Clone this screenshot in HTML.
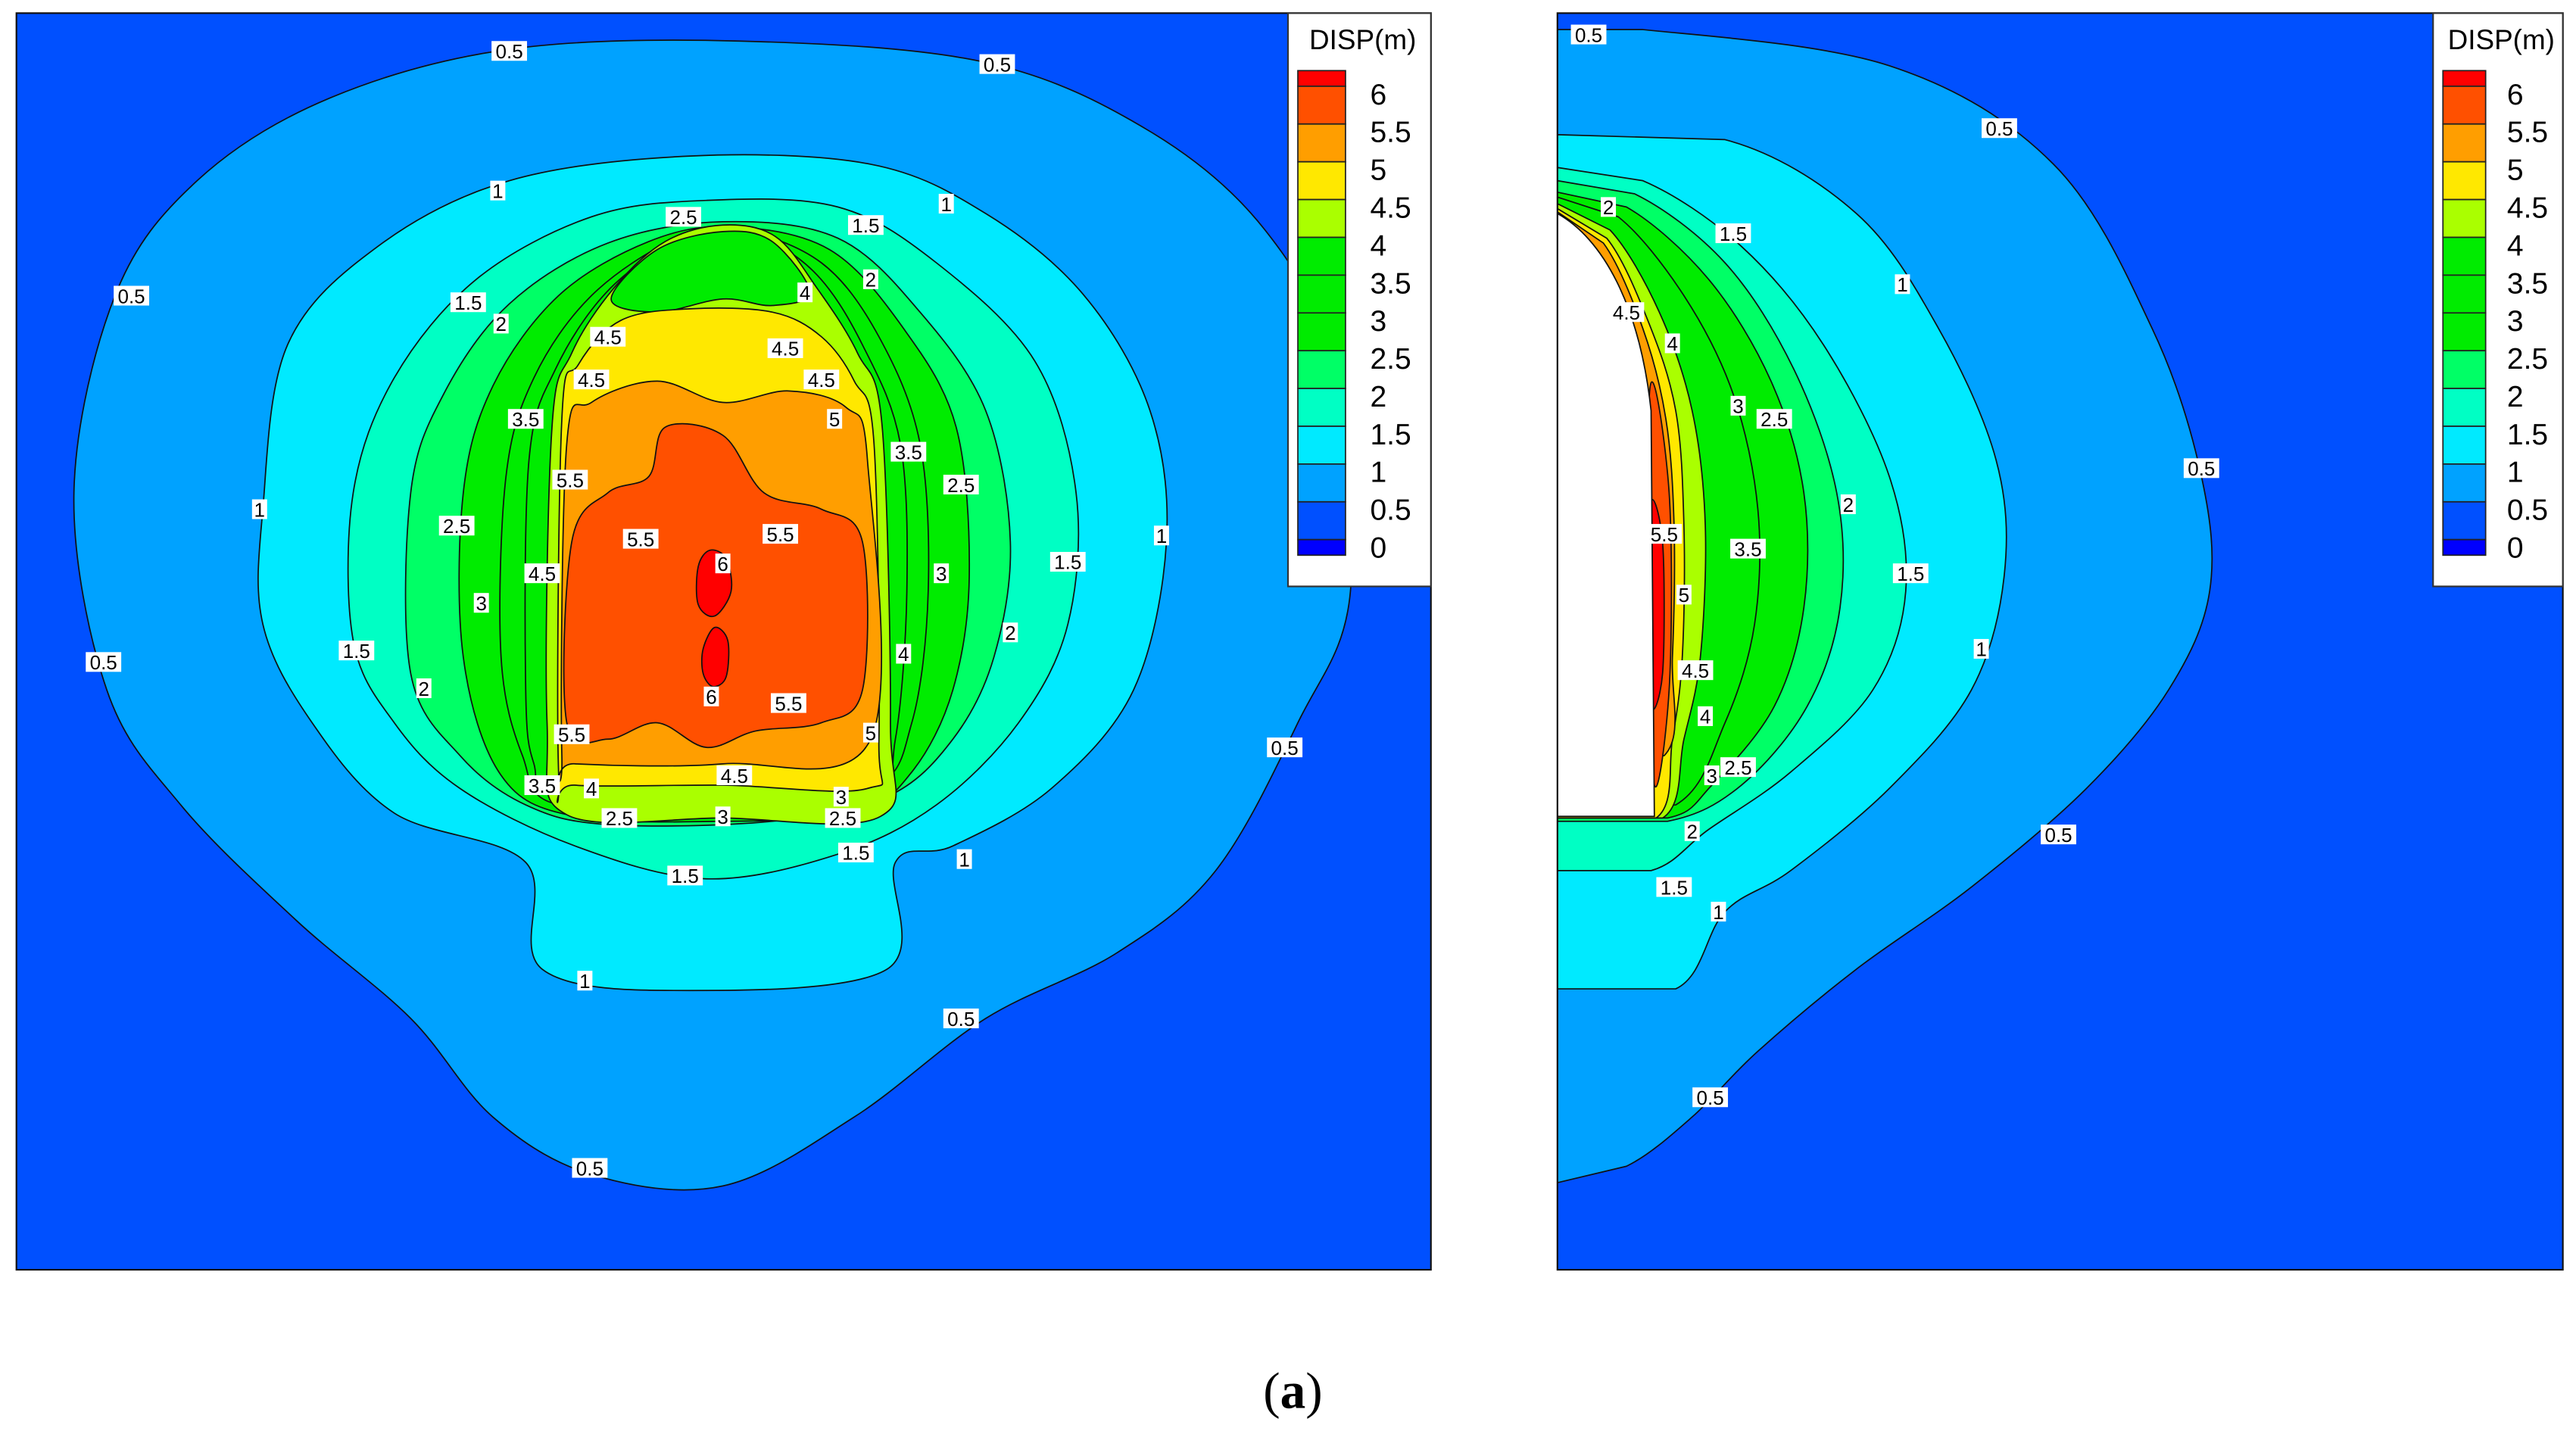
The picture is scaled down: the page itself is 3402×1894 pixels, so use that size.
<!DOCTYPE html>
<html><head><meta charset="utf-8"><style>
html,body{margin:0;padding:0;background:#fff}
svg{display:block}
text{font-family:"Liberation Sans",Arial,sans-serif}
</style></head><body>
<svg id="fig" width="3402" height="1894" viewBox="0 0 1568 873" preserveAspectRatio="none" xmlns="http://www.w3.org/2000/svg">
<g id="left"></g>
<g id="right"></g>
<text x="787" y="857" text-anchor="middle" font-size="31" style="font-family:'Liberation Serif',serif">(<tspan font-weight="bold">a</tspan>)</text>
</svg>
<script>
const levels = ["6","5.5","5","4.5","4","3.5","3","2.5","2","1.5","1","0.5","0"];
const swatchColors = ["#ff0000","#ff5000","#ff9e00","#ffe800","#aaff00","#00ec00","#00ec00","#00ec00","#00ff66","#00ffc4","#00eaff","#00a2ff","#0050ff","#0000ff"];
const C = {b:"#0050ff",lb:"#00a2ff",cy:"#00eaff",aq:"#00ffc4",sp:"#00ff66",gr:"#00ec00",yg:"#aaff00",ye:"#ffe800",or:"#ff9e00",orr:"#ff5000",re:"#ff0000"};
const leftContours = [
 ["lb",[[45,300],[70,180],[120,110],[200,60],[310,30],[450,25],[600,38],[700,80],[770,140],[810,220],[822,360],[790,440],[740,530],[680,580],[600,620],[520,680],[440,722],[360,715],[300,680],[250,620],[180,560],[110,490],[65,420]]],
 ["cy",[[160,310],[175,210],[230,150],[310,110],[420,95],[530,100],[600,130],[660,180],[700,250],[710,330],[690,420],[640,480],[580,515],[545,525],[540,590],[420,603],[330,590],[320,525],[240,495],[190,440],[160,380]]],
 ["aq",[[215,390],[215,300],[240,230],[290,170],[360,132],[430,122],[510,126],[570,160],[630,220],[655,300],[650,380],[620,440],[570,490],[510,520],[430,535],[350,515],[280,480],[240,440]]],
 ["sp",[[250,410],[250,300],[270,240],[310,185],[370,148],[440,135],[510,145],[560,190],[600,250],[615,330],[605,400],[580,450],[540,485],[470,500],[370,502],[320,490],[280,460]]],
 ["gr",[[282,400],[282,300],[300,235],[340,180],[395,147],[445,138],[505,152],[550,200],[582,260],[590,350],[580,420],[555,470],[520,495],[440,500],[350,497],[305,472]]],
 ["gr",[[305,400],[308,290],[325,230],[360,180],[410,146],[450,140],[500,160],[535,205],[560,270],[565,360],[555,440],[530,480],[440,490],[340,490],[318,460]]],
 ["gr",[[320,420],[322,280],[338,225],[372,175],[420,143],[455,141],[495,165],[525,210],[548,270],[552,360],[545,450],[530,485],[440,488],[340,485],[325,465]]],
 ["yg",[[333,440],[336,260],[348,215],[374,175],[405,147],[440,137],[472,144],[497,175],[522,215],[537,260],[542,440],[536,497],[440,498],[345,496]]],
 ["gr",[[372,182],[400,152],[440,141],[470,147],[493,178],[470,186],[440,182],[400,190]]],
 ["ye",[[340,470],[342,255],[352,222],[378,195],[420,188],[470,190],[500,205],[520,232],[532,270],[535,450],[528,480],[440,478],[350,478]]],
 ["or",[[342,460],[345,270],[360,245],[400,232],[440,245],[480,238],[515,248],[528,280],[530,450],[440,465],[350,465]]],
 ["orr",[[345,440],[348,330],[370,300],[395,290],[405,260],[440,265],[465,300],[500,310],[525,330],[525,420],[500,440],[460,445],[430,455],[400,440],[370,450]]],
 ["re",[[425,345],[432,335],[442,340],[445,360],[435,375],[425,368]]],
 ["re",[[428,395],[435,382],[443,390],[442,412],[434,418],[428,410]]]
];
const rightContours = [
 ["lb",[[948,18],[1000,18],[1150,40],[1250,100],[1310,200],[1340,290],[1345,360],[1320,420],[1270,480],[1200,540],[1130,590],[1070,640],[1030,680],[990,710],[948,720]]],
 ["cy",[[948,82],[1050,85],[1130,130],[1180,200],[1215,280],[1220,350],[1200,420],[1150,480],[1090,530],[1050,555],[1020,602],[948,602]]],
 ["aq",[[948,102],[1000,110],[1060,150],[1110,210],[1150,290],[1160,360],[1140,420],[1090,470],[1040,505],[1005,530],[948,530]]],
 ["sp",[[948,110],[995,118],[1050,160],[1092,225],[1118,300],[1120,370],[1100,430],[1060,478],[1015,500],[948,500]]],
 ["gr",[[948,117],[990,126],[1040,170],[1078,232],[1098,300],[1098,370],[1080,430],[1042,478],[1015,498],[948,498]]],
 ["gr",[[948,120],[985,132],[1025,180],[1055,240],[1070,310],[1068,380],[1050,440],[1020,490],[948,498]]],
 ["yg",[[948,124],[980,140],[1010,190],[1030,250],[1038,320],[1035,400],[1025,450],[1012,498],[948,498]]],
 ["ye",[[948,127],[978,145],[1003,195],[1020,250],[1025,320],[1024,400],[1018,450],[1008,498],[948,498]]],
 ["or",[[948,129],[976,148],[1000,200],[1014,255],[1019,320],[1018,400],[1013,460],[948,470]]],
 ["orr",[[1004,240],[1016,300],[1016,420],[1006,470]]],
 ["re",[[1004,310],[1012,330],[1012,410],[1004,425]]]
];
const leftLabels = [["0.5",310,31],["0.5",607,39],["1",303,116],["1",576,124],["0.5",80,180],["1.5",285,184],["1.5",527,137],["2.5",416,132],["2",305,197],["2",530,170],["4",490,178],["4.5",370,205],["4.5",360,231],["4.5",500,231],["4.5",478,212],["3.5",320,255],["5",508,255],["3.5",553,275],["2.5",585,295],["1",158,310],["2.5",278,320],["5.5",347,292],["5.5",390,328],["5.5",475,325],["6",440,343],["4.5",330,349],["1",707,326],["1.5",650,342],["3",573,349],["3",293,367],["2",615,385],["1.5",217,396],["4",550,398],["0.5",63,403],["6",433,424],["5.5",480,428],["2",258,419],["5.5",348,447],["5",530,446],["0.5",782,455],["4.5",447,472],["3.5",330,478],["4",360,480],["3",512,485],["2.5",377,498],["3",440,497],["2.5",513,498],["1.5",521,519],["1",587,523],["1.5",417,533],["1",356,597],["0.5",585,620],["0.5",359,711]];
const rightLabels = [["0.5",967,21],["0.5",1217,78],["2",979,126],["1.5",1055,142],["1",1158,173],["4.5",990,190],["4",1018,209],["3",1058,247],["2.5",1080,255],["0.5",1340,285],["2",1125,307],["5.5",1013,325],["3.5",1064,334],["1.5",1163,349],["5",1025,362],["1",1206,395],["4.5",1032,408],["4",1038,436],["3",1042,472],["2.5",1058,467],["2",1030,506],["0.5",1253,508],["1.5",1019,540],["1",1046,555],["0.5",1041,668]];
const legendTitle = "DISP(m)";

const NS="http://www.w3.org/2000/svg";
function mk(tag,attrs,parent){const e=document.createElementNS(NS,tag);for(const k in attrs)e.setAttribute(k,attrs[k]);parent.appendChild(e);return e;}
function smoothPath(pts){
  const n=pts.length;let d="M"+pts[0][0]+","+pts[0][1];
  for(let i=0;i<n;i++){
    const p0=pts[(i-1+n)%n],p1=pts[i],p2=pts[(i+1)%n],p3=pts[(i+2)%n];
    if(p1[0]===948||p2[0]===948){d+=" L"+p2[0]+","+p2[1];continue;}
    const t=6;
    const c1=[p1[0]+(p2[0]-p0[0])/t,p1[1]+(p2[1]-p0[1])/t];
    const c2=[p2[0]-(p3[0]-p1[0])/t,p2[1]-(p3[1]-p1[1])/t];
    d+=" C"+c1[0].toFixed(1)+","+c1[1].toFixed(1)+" "+c2[0].toFixed(1)+","+c2[1].toFixed(1)+" "+p2[0]+","+p2[1];
  }
  return d+"Z";
}

function drawPanel(g,x0,y0,x1,y1,contours){
  const clipId="clip"+x0;
  const defs=mk("defs",{},g);
  const cp=mk("clipPath",{id:clipId},defs);
  mk("rect",{x:x0,y:y0,width:x1-x0,height:y1-y0},cp);
  const bg=mk("rect",{x:x0,y:y0,width:x1-x0,height:y1-y0,fill:C.b},g);
  
  
  const cg=mk("g",{"clip-path":"url(#"+clipId+")"},g);
  contours.forEach(c=>{
    const p=mk("path",{d:smoothPath(c[1]),fill:C[c[0]],stroke:"#111","stroke-width":0.8,"stroke-linejoin":"round"},cg);
    
    
  });
  return cg;
}
function drawLabels(g,labels){
  labels.forEach(l=>{
    const w=l[0].length*6.2+3;
    const r=mk("rect",{x:l[1]-w/2,y:l[2]-6,width:w,height:12,fill:"#fff"},g);
    
    
    const t=mk("text",{x:l[1],y:l[2]+4.5,"text-anchor":"middle","font-size":12,fill:"#000"},g);
    t.textContent=l[0];
    
    
  });
}
function drawLegend(g,bx,by,bw,bh,sx,sw,tx){
  const box=mk("rect",{x:bx,y:by,width:bw,height:bh,fill:"#fff",stroke:"#333","stroke-width":1},g);
  
  
  const tt=mk("text",{x:bx+bw/2+2,y:by+22,"text-anchor":"middle","font-size":17,fill:"#000"},g);
  tt.textContent=legendTitle;
  
  
  const top=43, step=23, half=9.5;
  let y=top;
  swatchColors.forEach((col,i)=>{
    const h=(i===0||i===swatchColors.length-1)?half:step;
    const r=mk("rect",{x:sx,y:y,width:sw,height:h,fill:col,stroke:"#222","stroke-width":0.8},g);
    
    
    y+=h;
  });
  levels.forEach((lv,i)=>{
    const ly=top+half+step*i;
    const t=mk("text",{x:tx,y:ly+11,"font-size":18,fill:"#000"},g);
    t.textContent=lv;
    
    
  });
}
const L=document.getElementById("left"), R=document.getElementById("right");
const lcg=drawPanel(L,10,8,871,773,leftContours);
drawLabels(lcg,leftLabels);
mk("rect",{x:10,y:8,width:861,height:765,fill:"none",stroke:"#111","stroke-width":1},L);
drawLegend(L,784,8,87,349,790,29,834);

const rcg=drawPanel(R,948,8,1560,773,rightContours);
const hole=mk("path",{d:"M948,130 C975,145 998,185 1005,250 L1007,497 L948,497 Z",fill:"#fff",stroke:"#111","stroke-width":0.8},rcg);


drawLabels(rcg,rightLabels);
mk("rect",{x:948,y:8,width:612,height:765,fill:"none",stroke:"#111","stroke-width":1},R);
drawLegend(R,1481,8,79,349,1487,26,1526);
</script>
</body></html>
